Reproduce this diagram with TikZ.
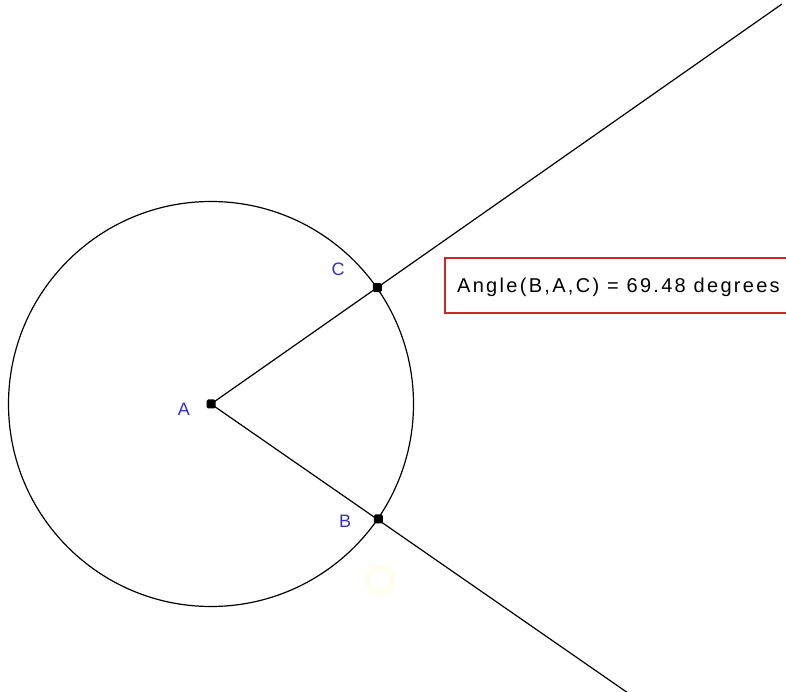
\documentclass[tikz,border=0pt]{standalone}
\usepackage{fontspec}
\usetikzlibrary{calc}
\newfontfamily\guifont[LetterSpace=11.5]{Liberation Sans}
\newfontfamily\lblfont{Liberation Sans}
\definecolor{lblblue}{RGB}{50,50,200}
\definecolor{boxred}{RGB}{205,40,40}
\begin{document}
\begin{tikzpicture}[x=1pt,y=1pt,
  geo/.style={line width=1.2pt,black},
  pt/.style={rectangle,rounded corners=1.5pt,fill=black,inner sep=0pt,minimum size=9pt},
  lbl/.style={text=lblblue,font=\lblfont\fontsize{18}{18}\selectfont,inner sep=0pt}]
\useasboundingbox (0,0) rectangle (786,691);
\fill[white] (0,0) rectangle (786,691);
\begin{scope}
\clip (0,0) rectangle (786,691);
\coordinate (A) at (211,287);
\coordinate (C) at ($(A)+(35:203)$);
\coordinate (B) at ($(A)+(-34.5:203)$);
\coordinate (Cend) at (782,687);
\coordinate (Bend) at (628,-2);
\draw[yellow!7,line width=5pt] (380,111) circle (13);
\draw[geo] (A) circle (202.5);
\draw[geo] (A) -- (Cend);
\draw[geo] (A) -- (Bend);
\node[pt] (pA) at (A) {};
\node[pt] (pB) at (B) {};
\node[pt] (pC) at (C) {};
\node[lbl] (lA) at (184,282) {A};
\node[lbl] (lB) at (345,170) {B};
\node[lbl] (lC) at (338,422) {C};
\draw[boxred,line width=1.2pt] (445,378) rectangle (800,433);
\node[anchor=base west,inner sep=0pt,font=\guifont\fontsize{20}{20}\selectfont] (txt) at (457,398) {Angle(B,A,C) = 69.48 degrees};
\end{scope}
\end{tikzpicture}
\end{document}
